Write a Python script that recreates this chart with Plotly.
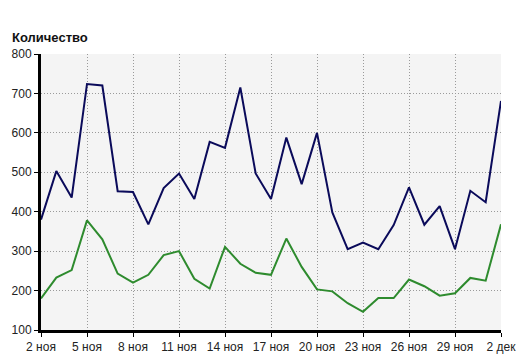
import plotly.graph_objects as go

days = ["2 ноя", "3 ноя", "4 ноя", "5 ноя", "6 ноя", "7 ноя", "8 ноя", "9 ноя", "10 ноя",
        "11 ноя", "12 ноя", "13 ноя", "14 ноя", "15 ноя", "16 ноя", "17 ноя", "18 ноя",
        "19 ноя", "20 ноя", "21 ноя", "22 ноя", "23 ноя", "24 ноя", "25 ноя", "26 ноя",
        "27 ноя", "28 ноя", "29 ноя", "30 ноя", "1 дек", "2 дек"]

blue_values = [380, 503, 436, 724, 720, 452, 450, 368, 460, 497, 432, 577, 562, 715, 497,
               432, 588, 470, 600, 398, 305, 322, 305, 366, 462, 367, 414, 305, 453, 424, 681]
green_values = [180, 233, 252, 378, 330, 243, 220, 240, 290, 300, 230, 205, 311, 268, 245,
                240, 332, 260, 203, 198, 168, 146, 181, 181, 228, 211, 187, 193, 232, 225, 368]

tick_labels = ["2 ноя", "5 ноя", "8 ноя", "11 ноя", "14 ноя", "17 ноя", "20 ноя",
               "23 ноя", "26 ноя", "29 ноя", "2 дек"]
y_ticks = [100, 200, 300, 400, 500, 600, 700, 800]

fig = go.Figure()
fig.add_trace(go.Scatter(x=days, y=blue_values, mode="lines",
                         line=dict(color="#0a0a5a", width=2)))
fig.add_trace(go.Scatter(x=days, y=green_values, mode="lines",
                         line=dict(color="#2e8b2e", width=2)))

font = dict(family="Liberation Sans, Arial, sans-serif", size=12, color="#222")
grid = dict(showgrid=True, gridcolor="#9a9a9a", griddash="1px,2px", gridwidth=1,
            showline=True, linecolor="black", linewidth=3, ticks="outside", ticklen=4,
            tickwidth=1, tickcolor="black", zeroline=False, fixedrange=True,
            automargin=False)

fig.update_layout(
    width=526, height=359,
    margin=dict(l=41, r=25, t=54, b=29, autoexpand=False),
    paper_bgcolor="white", plot_bgcolor="#f4f4f4",
    showlegend=False, font=font,
    xaxis=dict(type="category", range=[0, 30], tickmode="array", tickvals=tick_labels,
               ticktext=tick_labels, **grid),
    yaxis=dict(range=[100, 800], tickvals=y_ticks, **grid),
    annotations=[dict(text="<b>Количество</b>", xref="paper", yref="paper",
                      x=0, y=1, xanchor="left", yanchor="middle",
                      xshift=-31, yshift=17,
                      showarrow=False, font=dict(family="Liberation Sans, Arial, sans-serif",
                                                 size=13, color="#111"))],
)

fig.write_html("out.html", config={"displayModeBar": False},
               post_script="document.body.style.margin='0';document.body.style.overflow='hidden';")
